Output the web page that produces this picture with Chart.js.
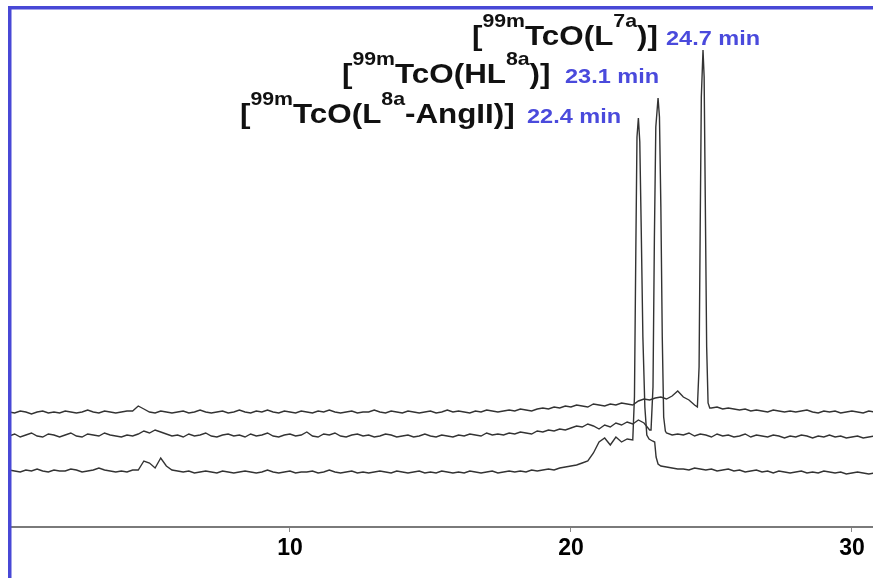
<!DOCTYPE html>
<html>
<head>
<meta charset="utf-8">
<script src="https://cdn.jsdelivr.net/npm/chart.js@4.4.0/dist/chart.umd.min.js"></script>
<style>
  html, body { margin: 0; padding: 0; background: #ffffff; }
  canvas { display: block; }
</style>
</head>
<body>
<canvas id="chrom" width="873" height="578"></canvas>
<script>
// Retention time axis (min)
const xTicks = [10, 20, 30];
const sampleStep = 0.2;            // baseline readings every 0.2 min, starting at 0 min

// Peak apexes of the three 99mTc complexes
const compounds   = ['L7a', 'HL8a', 'L8a-AngII'];
const peakTimes   = [24.7, 23.1, 22.4];
const peakHeights = [477, 429, 409];

// Radio-detector baselines (stacked traces, offsets included)
const baseA = [
  115,114,116,115,113,115,116,114,115,114,
  116,115,114,115,117,115,114,116,115,114,
  115,116,116,121,118,115,114,116,115,114,
  115,116,114,115,117,115,114,115,116,114,
  115,117,115,114,116,115,117,115,114,116,
  115,114,116,115,114,116,115,117,115,114,
  115,116,114,115,115,117,115,114,116,115,
  114,116,115,114,115,116,114,115,117,115,
  116,115,114,116,115,117,116,115,116,117,
  116,118,117,116,118,119,118,120,119,121,
  120,122,121,120,123,122,121,123,122,124,
  123,122,126,128,127,129,130,128,131,136,
  130,127,122,120,120,119,120,118,119,118,
  117,118,116,117,116,115,117,116,115,116,
  115,116,117,115,114,116,115,116,114,115,
  116,115,114,116,115
];
const baseB = [
  91,93,90,92,94,91,90,93,92,90,
  92,94,91,90,93,92,91,94,92,91,
  90,92,91,93,96,94,97,95,93,91,
  92,90,93,91,92,94,91,90,92,93,
  91,92,90,93,91,92,94,91,90,92,
  93,91,92,95,91,90,93,92,94,91,
  90,92,93,91,92,90,91,93,92,90,
  91,92,90,91,93,91,90,92,91,90,
  92,91,93,92,91,94,92,93,92,94,
  93,95,94,93,96,95,97,96,98,97,
  99,101,100,103,101,98,102,100,104,102,
  105,103,107,104,97,96,96,94,92,93,
  92,94,91,93,92,90,93,91,92,90,
  91,93,90,92,91,90,92,91,89,91,
  90,92,91,89,91,90,92,90,91,89,
  90,91,89,90,91
];
const baseC = [
  57,56,55,57,56,58,56,55,57,56,
  56,58,57,55,56,57,59,57,56,55,
  56,55,57,57,66,64,59,69,61,57,
  56,55,56,54,55,56,55,54,56,55,
  54,55,56,55,54,55,57,55,54,55,
  56,54,55,55,56,54,55,57,55,54,
  55,56,54,55,54,55,56,55,54,56,
  55,54,55,56,54,55,54,56,55,54,
  55,54,56,55,54,55,56,54,55,56,
  55,56,55,57,56,57,58,57,59,60,
  61,62,64,66,74,85,89,82,90,85,
  88,86,87,87,87,84,61,60,59,58,
  58,57,59,58,57,58,56,57,58,56,
  57,55,56,57,55,56,54,56,55,54,
  55,56,54,55,54,56,55,54,55,53,
  54,55,54,53,54
];

// Readings on the flanks of each peak [time (min), signal]
const flankA = [[24.5,120],[24.56,160],[24.6,300],[24.64,430],[24.74,450],[24.78,330],[24.83,180],[24.88,124],[24.94,119]];
const flankB = [[22.85,97],[22.92,140],[22.97,290],[23.02,400],[23.15,410],[23.2,320],[23.25,190],[23.3,110],[23.36,96]];
const flankC = [[22.2,87],[22.26,130],[22.31,280],[22.35,390],[22.45,385],[22.5,300],[22.56,190],[22.63,120],[22.7,92],[22.78,88],[22.9,86],[22.98,85],[23.03,70],[23.1,63]];

const labelParts = [
  [['[',0],['99m',1],['TcO(L',0],['7a',1],[')]',0]],
  [['[',0],['99m',1],['TcO(HL',0],['8a',1],[')]',0]],
  [['[',0],['99m',1],['TcO(L',0],['8a',1],['-AngII)]',0]]
];

function buildTrace(base, flank, apexT, apexV) {
  const pk = flank.concat([[apexT, apexV]]).sort((a, b) => a[0] - b[0]);
  const lo = pk[0][0], hi = pk[pk.length - 1][0];
  const out = [];
  base.forEach((v, i) => {
    const t = Math.round(i * sampleStep * 100) / 100;
    if (t < lo || t > hi) out.push({ x: t, y: v });
  });
  pk.forEach(p => out.push({ x: p[0], y: p[1] }));
  return out.sort((a, b) => a.x - b.x);
}

const traces = [
  buildTrace(baseA, flankA, peakTimes[0], peakHeights[0]),
  buildTrace(baseB, flankB, peakTimes[1], peakHeights[1]),
  buildTrace(baseC, flankC, peakTimes[2], peakHeights[2])
];

const TRACE_COLOR = '#333333';
const FRAME_BLUE = '#4848d6';
const TIME_BLUE = '#4a4adc';

// Blue frame along the top and left edges
const framePlugin = {
  id: 'frame',
  afterDraw(chart) {
    const ctx = chart.ctx;
    ctx.save();
    ctx.fillStyle = FRAME_BLUE;
    ctx.fillRect(8, 6, chart.width - 8, 3.5);
    ctx.fillRect(8, 6, 3.5, chart.height - 6);
    ctx.restore();
  }
};

// Compound names with superscripts and retention times
const labelLayout = {
  nameX: [472, 342, 240],
  timeX: [666, 565, 527],
  baseY: [45, 83, 123],
  stretch: 1.12,
  mainFont: 'bold 28px "Liberation Sans", Arial, sans-serif',
  supFont: 'bold 19px "Liberation Sans", Arial, sans-serif',
  timeFont: 'bold 21px "Liberation Sans", Arial, sans-serif',
  supRise: 18
};
const labelPlugin = {
  id: 'peakLabels',
  afterDraw(chart) {
    const ctx = chart.ctx, L = labelLayout;
    ctx.save();
    ctx.textBaseline = 'alphabetic';
    ctx.textAlign = 'left';
    labelParts.forEach((parts, r) => {
      ctx.save();
      ctx.translate(L.nameX[r], L.baseY[r]);
      ctx.scale(L.stretch, 1);
      ctx.fillStyle = '#111111';
      let x = 0;
      parts.forEach(([txt, sup]) => {
        ctx.font = sup ? L.supFont : L.mainFont;
        ctx.fillText(txt, x, sup ? -L.supRise : 0);
        x += ctx.measureText(txt).width;
      });
      ctx.restore();
      ctx.save();
      ctx.translate(L.timeX[r], L.baseY[r]);
      ctx.scale(L.stretch, 1);
      ctx.fillStyle = TIME_BLUE;
      ctx.font = L.timeFont;
      ctx.fillText(peakTimes[r].toFixed(1) + ' min', 0, 0);
      ctx.restore();
    });
    ctx.restore();
  }
};

new Chart(document.getElementById('chrom'), {
  type: 'line',
  data: {
    datasets: traces.map((pts, i) => ({
      label: compounds[i],
      data: pts,
      borderColor: TRACE_COLOR,
      borderWidth: 1.4,
      pointRadius: 0,
      tension: 0,
      fill: false
    }))
  },
  options: {
    responsive: false,
    animation: false,
    parsing: false,
    layout: { padding: { left: 9, right: 0, top: 9, bottom: 0 } },
    plugins: { legend: { display: false }, tooltip: { enabled: false } },
    scales: {
      x: {
        type: 'linear',
        min: 0,
        max: 30.75,
        afterBuildTicks: s => { s.ticks = xTicks.map(v => ({ value: v })); },
        afterFit: s => { s.height = 51; },
        grid: { display: true, drawOnChartArea: false, drawTicks: true, tickLength: 5, color: '#8a8a8a', lineWidth: 1 },
        border: { display: true, color: '#7a7a7a', width: 2 },
        ticks: {
          color: '#000000',
          padding: 3,
          maxRotation: 0,
          font: { family: '"Liberation Sans Narrow", "Arial Narrow", "Liberation Sans", Arial, sans-serif', size: 23, weight: 'bold' },
          callback: v => String(v)
        }
      },
      y: { display: false, min: 0, max: 518 }
    }
  },
  plugins: [framePlugin, labelPlugin]
});
</script>
</body>
</html>
